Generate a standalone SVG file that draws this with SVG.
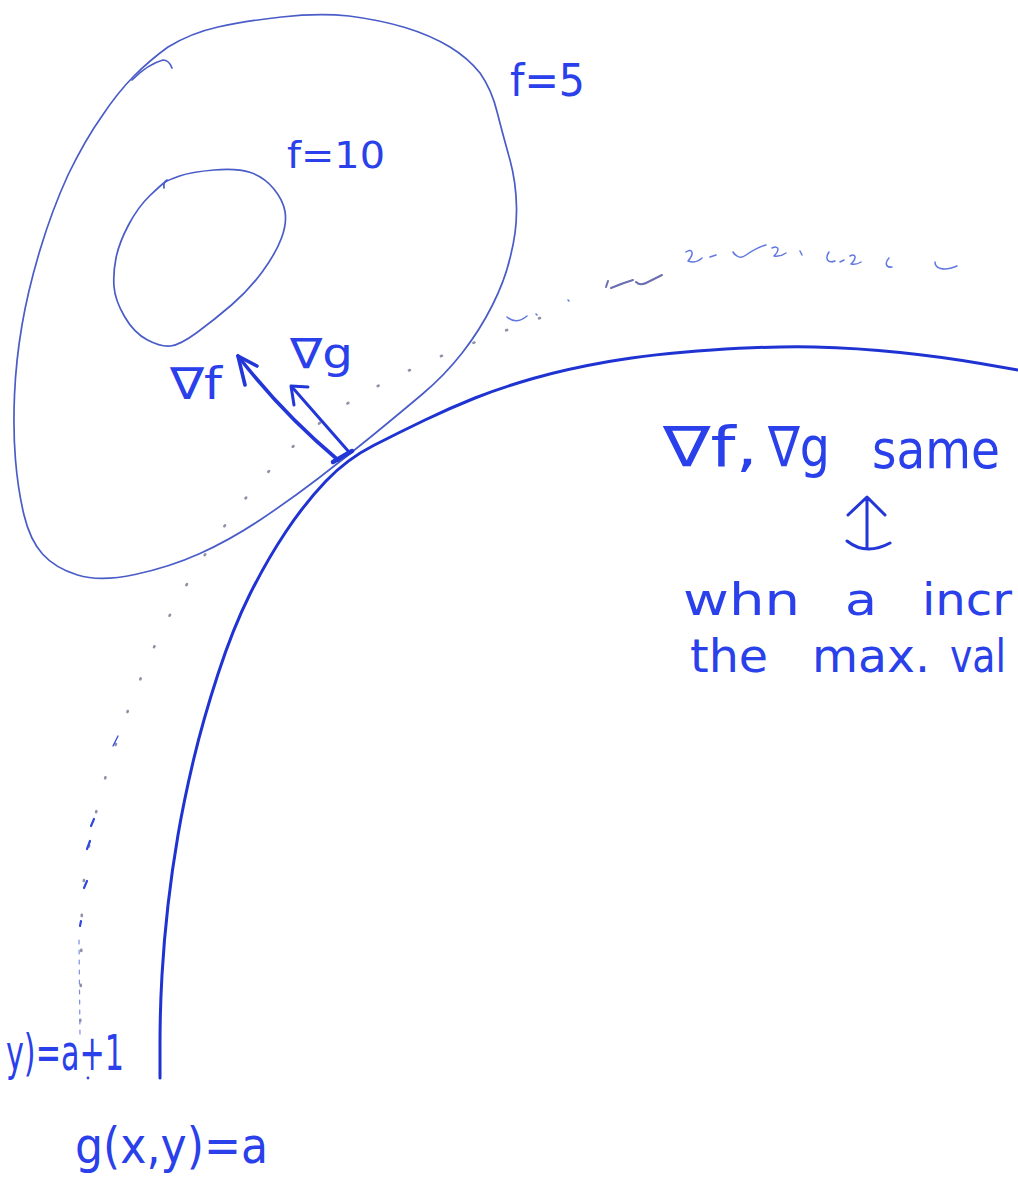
<svg xmlns="http://www.w3.org/2000/svg" width="1018" height="1197" viewBox="0 0 1018 1197">
<style>
.thin{fill:none;stroke:#4a5cc8;stroke-width:1.7;stroke-linecap:round;stroke-linejoin:round}
.thick{fill:none;stroke:#1f33d2;stroke-width:3;stroke-linecap:round;stroke-linejoin:round}
.arr{fill:none;stroke:#2337d8;stroke-linecap:round;stroke-linejoin:round}
.dots{fill:none;stroke:#8e90a8;stroke-width:2.6;stroke-linecap:round;stroke-dasharray:1 34}
.squig{fill:none;stroke:#6077e0;stroke-width:1.5;stroke-linecap:round;stroke-linejoin:round}
.bdash{fill:none;stroke:#3048e0;stroke-width:2.2;stroke-linecap:round}
.t{font-family:"DejaVu Sans","Liberation Sans",sans-serif;fill:#2a40ea}
</style>
<rect width="1018" height="1197" fill="#ffffff"/>

<g id="contour-f5">
<path class="thin" d="M168,47 Q191,33 218,27 Q245,21 281.5,17 Q318,13 349,16 Q380,20 405,27.5 Q430,35 450,47 Q468,58 480,73 Q492,90 497.5,113.5 Q503,135 510,160 Q516,182 516.5,207 Q517,232 510,258 Q505,280 492.5,305 Q480,330 462.5,352.5 Q445,375 422.5,394 Q400,413 372.5,435.5 Q345,458 317.5,479 Q290,500 260,520 Q230,540 200,553.5 Q170,567 135,574.5 Q100,582 77.5,575 Q55,568 42.5,554 Q30,540 24,515 Q18,490 15.5,460 Q13,430 14.5,395 Q16,360 22,325 Q28,290 40,250 Q52,210 68,175 Q85,140 102,116 Q118,92 134,76 Q150,60 168,47"/>
<path class="thin" d="M132,80 Q148,64 163,60 q6,0 9,8"/>
</g>

<g id="contour-f10">
<path class="thin" d="M179.5,176 Q191,172 214,170 Q237,168 250.5,172.5 Q264,177 273.5,188.5 Q283,200 285,211.5 Q287,223 281.5,238 Q276,253 262.5,271.5 Q249,290 231.5,305 Q214,320 197,332.5 Q180,345 170.5,346 Q161,347 147.5,340 Q134,333 124.5,316.5 Q115,300 114,286.5 Q113,273 116,258 Q119,243 128.5,225 Q138,207 149.5,196 Q161,185 164.5,182.5 Q168,180 179.5,176"/>
<path class="thin" d="M164,188 q-1,-6 3,-8"/>
</g>

<g id="curve-g-a">
<path class="thick" d="M160,1078 L160,1044 Q160,1010 162,975 Q164,940 168,905 Q172,870 178,835 Q184,800 193.5,760 Q203,720 218,674 Q233,628 250,594 Q267,560 286,531.5 Q305,503 326,481 Q347,459 373.5,445.5 Q400,432 425,420 Q450,408 475,398 Q500,388 533,378.5 Q566,369 609,361.5 Q652,354 712,350 Q772,346 814.5,347 Q857,348 900,352.5 Q943,357 980.5,363.5 L1018,370"/>
</g>

<g id="curve-g-a1">
<path class="dots" d="M540,318 C450,350 380,380 330,415 C260,468 200,550 155,645 C115,735 88,820 82,900 L80,1040"/>
<path class="squig" d="M507,317 q9,8 20,-1 M536,314 l1,1 M568,300 l1,1"/>
<path class="squig" style="stroke:#6a6fb0;stroke-width:2" d="M606,287 l2,-6 M611,288 q12,-5 22,-8 M636,282 q4,4 10,1 q8,-4 16,-8"/>
<path class="squig" d="M686,252 c6,-4 9,1 2,9 c6,2 11,0 14,-3 M710,257 l6,-2 M733,252 c3,5 8,7 13,3 c6,-4 12,-8 20,-10 M772,248 c7,-3 8,2 2,8 c5,1 9,-1 12,-3 M800,251 l2,4 M829,252 c-4,6 -2,12 6,9 M840,262 l4,-2 M850,256 c6,-3 7,2 1,8 c4,1 7,0 10,-2 M889,258 c-4,4 -4,10 3,9 M935,262 c0,6 8,10 22,4"/>
<path class="bdash" style="stroke-width:1.3" d="M113,746 l5,-10"/>
<path class="bdash" d="M91,826 l3,-7 M87,849 l3,-8 M84,888 l3,-7 M80,926 l1,-5"/>
<path class="bdash" style="stroke-width:1.2;stroke:#7a8ee8;stroke-dasharray:4 6" d="M79,940 L80,1036"/>
<circle cx="88" cy="1078" r="1.4" fill="#3048e0"/>
</g>

<g id="connectors">
<path class="arr" style="stroke-width:3.6" d="M338,460 Q282,413 238,356"/>
<path class="arr" style="stroke-width:3.6" d="M257,366 L238,356 L245,385"/>
<path class="arr" style="stroke-width:3" d="M349,452 L292,387"/>
<path class="arr" style="stroke-width:3" d="M308,387 L291,386 L294,405"/>
<path class="arr" style="stroke-width:4.5" d="M333,462 L352,451"/>
<path class="arr" style="stroke-width:3" d="M867,499 L867,548 M848,515 L867,497 L885,515 M847,541 Q866,556 890,543"/>
</g>

<g id="labels">
<text class="t" x="510" y="96" font-size="44" textLength="75" lengthAdjust="spacingAndGlyphs">f=5</text>
<text class="t" x="287" y="168" font-size="38" textLength="98" lengthAdjust="spacingAndGlyphs">f=10</text>
<text class="t" x="170" y="399" font-size="44" textLength="52" lengthAdjust="spacingAndGlyphs">∇f</text>
<text class="t" x="290" y="368" font-size="42" textLength="63" lengthAdjust="spacingAndGlyphs">∇g</text>
<text class="t" x="663" y="466" font-size="56" textLength="95" lengthAdjust="spacingAndGlyphs">∇f,</text>
<text class="t" x="768" y="466" font-size="56" textLength="62" lengthAdjust="spacingAndGlyphs">∇g</text>
<text class="t" x="872" y="468" font-size="54" textLength="128" lengthAdjust="spacingAndGlyphs">same</text>
<text class="t" x="683" y="615" font-size="45" textLength="117" lengthAdjust="spacingAndGlyphs">whn</text>
<text class="t" x="845" y="615" font-size="45" textLength="32" lengthAdjust="spacingAndGlyphs">a</text>
<text class="t" x="922" y="615" font-size="45" textLength="90" lengthAdjust="spacingAndGlyphs">incr</text>
<text class="t" x="690" y="672" font-size="46" textLength="78" lengthAdjust="spacingAndGlyphs">the</text>
<text class="t" x="812" y="672" font-size="46" textLength="118" lengthAdjust="spacingAndGlyphs">max.</text>
<text class="t" x="950" y="672" font-size="46" textLength="56" lengthAdjust="spacingAndGlyphs">val</text>
<text class="t" x="6" y="1070" font-size="50" textLength="118" lengthAdjust="spacingAndGlyphs">y)=a+1</text>
<text class="t" x="75" y="1163" font-size="50" textLength="193" lengthAdjust="spacingAndGlyphs">g(x,y)=a</text>
</g>
</svg>
